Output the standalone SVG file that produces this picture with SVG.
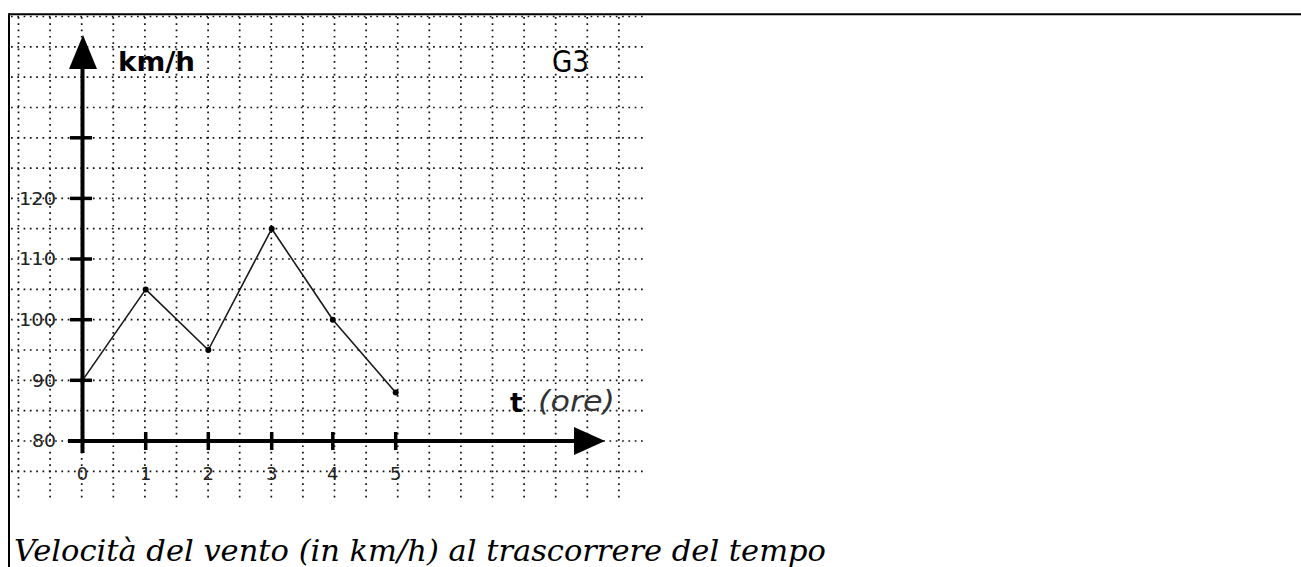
<svg xmlns="http://www.w3.org/2000/svg" width="1301" height="567" viewBox="0 0 1301 567">
<style>
.dot{stroke:#111;stroke-width:1.7;stroke-dasharray:1.7 4.6;fill:none}
.axis{stroke:#000;stroke-width:4;fill:none}
.tick{stroke:#000;stroke-width:3.5}
.lbl{font-family:"DejaVu Sans",sans-serif;font-size:18px;fill:#222}
.data{stroke:#1a1a1a;stroke-width:1.6;fill:none;stroke-linejoin:round}
.pt{fill:#000}
</style>
<rect width="1301" height="567" fill="#fff"/>
<g id="frame">
<line x1="9" y1="14.3" x2="1301" y2="14.3" stroke="#000" stroke-width="2"/>
<line x1="9" y1="13.3" x2="9" y2="567" stroke="#000" stroke-width="2"/>
</g>
<g id="grid">
<g id="grid-h">
<line class="dot" x1="11" y1="16.5" x2="645" y2="16.5"/>
<line class="dot" x1="11" y1="46.8" x2="645" y2="46.8"/>
<line class="dot" x1="11" y1="77.1" x2="645" y2="77.1"/>
<line class="dot" x1="11" y1="107.5" x2="645" y2="107.5"/>
<line class="dot" x1="11" y1="137.8" x2="645" y2="137.8"/>
<line class="dot" x1="11" y1="168.1" x2="645" y2="168.1"/>
<line class="dot" x1="11" y1="198.4" x2="645" y2="198.4"/>
<line class="dot" x1="11" y1="228.7" x2="645" y2="228.7"/>
<line class="dot" x1="11" y1="259" x2="645" y2="259"/>
<line class="dot" x1="11" y1="289.4" x2="645" y2="289.4"/>
<line class="dot" x1="11" y1="319.7" x2="645" y2="319.7"/>
<line class="dot" x1="11" y1="350" x2="645" y2="350"/>
<line class="dot" x1="11" y1="380.3" x2="645" y2="380.3"/>
<line class="dot" x1="11" y1="410.7" x2="645" y2="410.7"/>
<line class="dot" x1="11" y1="441" x2="645" y2="441"/>
<line class="dot" x1="11" y1="471.3" x2="645" y2="471.3"/>
</g>
<g id="grid-v">
<line class="dot" x1="18.5" y1="17" x2="18.5" y2="500"/>
<line class="dot" x1="50.1" y1="17" x2="50.1" y2="500"/>
<line class="dot" x1="81.7" y1="17" x2="81.7" y2="500"/>
<line class="dot" x1="113.3" y1="17" x2="113.3" y2="500"/>
<line class="dot" x1="144.9" y1="17" x2="144.9" y2="500"/>
<line class="dot" x1="176.5" y1="17" x2="176.5" y2="500"/>
<line class="dot" x1="208.1" y1="17" x2="208.1" y2="500"/>
<line class="dot" x1="239.7" y1="17" x2="239.7" y2="500"/>
<line class="dot" x1="271.3" y1="17" x2="271.3" y2="500"/>
<line class="dot" x1="302.9" y1="17" x2="302.9" y2="500"/>
<line class="dot" x1="334.5" y1="17" x2="334.5" y2="500"/>
<line class="dot" x1="366.1" y1="17" x2="366.1" y2="500"/>
<line class="dot" x1="397.7" y1="17" x2="397.7" y2="500"/>
<line class="dot" x1="429.3" y1="17" x2="429.3" y2="500"/>
<line class="dot" x1="460.9" y1="17" x2="460.9" y2="500"/>
<line class="dot" x1="492.5" y1="17" x2="492.5" y2="500"/>
<line class="dot" x1="524.1" y1="17" x2="524.1" y2="500"/>
<line class="dot" x1="555.7" y1="17" x2="555.7" y2="500"/>
<line class="dot" x1="587.3" y1="17" x2="587.3" y2="500"/>
<line class="dot" x1="618.9" y1="17" x2="618.9" y2="500"/>
</g>
</g>
<g id="y-axis">
<line class="axis" x1="82.5" y1="62" x2="82.5" y2="453"/>
<polygon points="83,35 69,69 97,69" fill="#000"/>
<line class="tick" x1="70" y1="137.8" x2="92" y2="137.8"/>
<line class="tick" x1="70" y1="198.4" x2="92" y2="198.4"/>
<line class="tick" x1="70" y1="259" x2="92" y2="259"/>
<line class="tick" x1="70" y1="319.7" x2="92" y2="319.7"/>
<line class="tick" x1="70" y1="380.3" x2="92" y2="380.3"/>
<text class="lbl" x="56" y="204.5" text-anchor="end" textLength="37" lengthAdjust="spacingAndGlyphs">120</text>
<text class="lbl" x="56" y="265" text-anchor="end" textLength="37" lengthAdjust="spacingAndGlyphs">110</text>
<text class="lbl" x="56" y="326" text-anchor="end" textLength="37" lengthAdjust="spacingAndGlyphs">100</text>
<text class="lbl" x="56" y="386.5" text-anchor="end" textLength="24" lengthAdjust="spacingAndGlyphs">90</text>
<text class="lbl" x="56" y="447" text-anchor="end" textLength="24" lengthAdjust="spacingAndGlyphs">80</text>
<text x="118" y="71" font-family="DejaVu Sans, sans-serif" font-size="27" font-weight="bold" textLength="77" lengthAdjust="spacingAndGlyphs">km/h</text>
</g>
<g id="x-axis">
<line class="axis" x1="68" y1="441" x2="580" y2="441"/>
<polygon points="605,441 574,427 574,455" fill="#000"/>
<line class="tick" x1="145.7" y1="432" x2="145.7" y2="450"/>
<line class="tick" x1="208.3" y1="432" x2="208.3" y2="450"/>
<line class="tick" x1="271.7" y1="432" x2="271.7" y2="450"/>
<line class="tick" x1="332.8" y1="432" x2="332.8" y2="450"/>
<line class="tick" x1="395.7" y1="432" x2="395.7" y2="450"/>
<text class="lbl" x="82.5" y="479.5" text-anchor="middle">0</text>
<text class="lbl" x="145.7" y="479.5" text-anchor="middle">1</text>
<text class="lbl" x="208.3" y="479.5" text-anchor="middle">2</text>
<text class="lbl" x="271.7" y="479.5" text-anchor="middle">3</text>
<text class="lbl" x="332.8" y="479.5" text-anchor="middle">4</text>
<text class="lbl" x="395.7" y="479.5" text-anchor="middle">5</text>
<text x="510" y="411.5" font-family="DejaVu Sans, sans-serif" font-size="26" font-weight="bold">t</text>
<text x="538" y="411" font-family="DejaVu Sans, sans-serif" font-size="29" font-style="italic" fill="#333" textLength="77" lengthAdjust="spacingAndGlyphs">(ore)</text>
</g>
<g id="title">
<text x="552" y="71.5" font-family="DejaVu Sans, sans-serif" font-size="31" textLength="37" lengthAdjust="spacingAndGlyphs">G3</text>
</g>
<g id="series">
<polyline class="data" points="82.5,380.4 145.7,289.4 208.3,350 271.7,228.8 332.8,319.7 395.7,392.5"/>
<circle class="pt" cx="82.5" cy="380.4" r="2.5"/>
<circle class="pt" cx="145.7" cy="289.4" r="3"/>
<circle class="pt" cx="208.3" cy="350" r="3"/>
<circle class="pt" cx="271.7" cy="228.8" r="3"/>
<circle class="pt" cx="332.8" cy="319.7" r="3"/>
<circle class="pt" cx="395.7" cy="392.5" r="3"/>
</g>
<g id="caption">
<text x="14" y="561" font-family="DejaVu Serif, serif" font-size="30.5" font-style="italic">Velocità del vento (in km/h) al trascorrere del tempo</text>
</g>
</svg>
